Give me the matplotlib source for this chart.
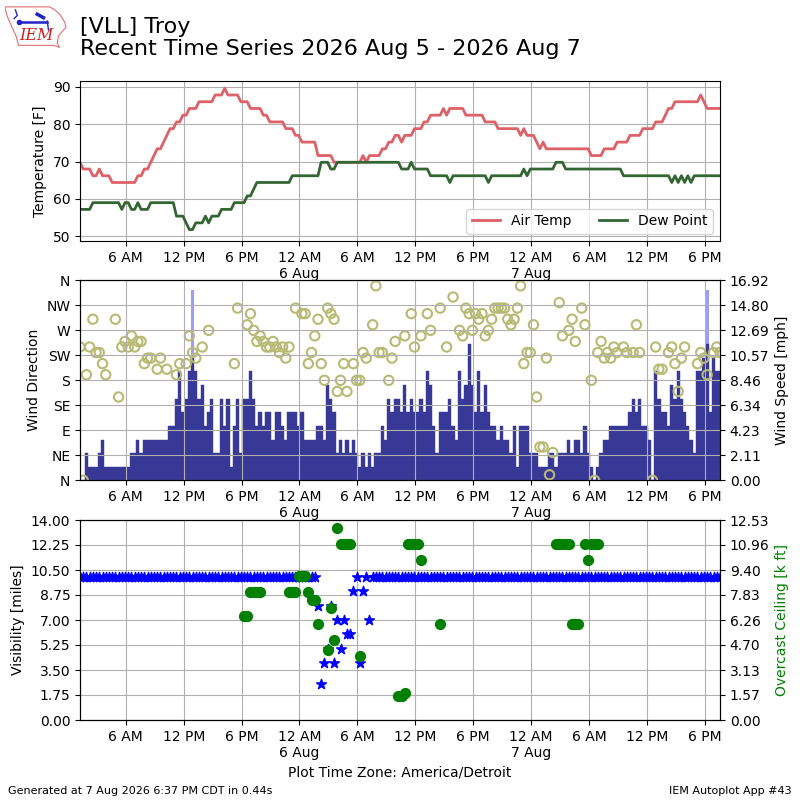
import matplotlib
matplotlib.use('Agg')
import matplotlib.pyplot as plt
import matplotlib.dates as mdates
from matplotlib.ticker import FuncFormatter, MultipleLocator
from matplotlib.patches import Polygon
import numpy as np
import pandas as pd

nan = np.nan

# observations every 20 minutes, local time (America/Detroit)
start = '2026-08-05 01:15'
n_obs = 200

# air temperature [C]
temp_c = [
    21, 20, 20, 20, 19, 19, 20, 19, 19, 19,
    18, 18, 18, 18, 18, 18, 18, 18, 19, 19,
    20, 20, 21, 22, 23, 23, 24, 25, 26, 26,
    27, 27, 28, 28, 29, 29, 29, 30, 30, 30,
    30, 30, 31, 31, 31, 32, 31, 31, 31, 31,
    30, 30, 30, 29, 29, 29, 29, 28, 28, 27,
    27, 27, 27, 27, 26, 26, 26, 25, 25, 24,
    24, 24, 24, 24, 22, 22, 22, 22, 22, 21,
    21, 21, 21, 21, 21, 21, 21, 21, 22, 21,
    22, 22, 22, 22, 23, 23, 24, 24, 25, 25,
    24, 25, 25, 25, 26, 26, 26, 27, 27, 28,
    28, 28, 28, 29, 28, 29, 29, 29, 29, 29,
    28, 28, 28, 28, 28, 28, 27, 27, 27, 27,
    26, 26, 26, 26, 26, 26, 26, 25, 26, 25,
    25, 25, 24, 23, 24, 23, 23, 23, 23, 23,
    23, 23, 23, 23, 23, 23, 23, 23, 23, 22,
    22, 22, 22, 23, 23, 23, 23, 24, 24, 24,
    24, 25, 25, 25, 25, 26, 26, 26, 26, 27,
    27, 27, 28, 29, 29, 30, 30, 30, 30, 30,
    30, 30, 30, 31, 30, 29, 29, 29, 29, 29,
]

# dew point [C]
dwpt_c = [
    14, 14, 14, 14, 15, 15, 15, 15, 15, 15,
    15, 15, 15, 14, 15, 15, 14, 14, 15, 14,
    14, 14, 15, 15, 15, 15, 15, 15, 15, 15,
    13, 13, 13, 12, 11, 11, 12, 12, 12, 13,
    12, 13, 13, 13, 14, 14, 14, 14, 15, 15,
    15, 15, 16, 16, 17, 18, 18, 18, 18, 18,
    18, 18, 18, 18, 18, 18, 19, 19, 19, 19,
    19, 19, 19, 19, 19, 21, 21, 21, 20, 20,
    21, 21, 21, 21, 21, 21, 21, 21, 21, 21,
    21, 21, 21, 21, 21, 21, 21, 21, 21, 21,
    20, 20, 20, 21, 20, 20, 20, 20, 20, 19,
    19, 19, 19, 19, 19, 18, 19, 19, 19, 19,
    19, 19, 19, 19, 19, 19, 19, 18, 19, 19,
    19, 19, 19, 19, 19, 19, 19, 19, 20, 19,
    20, 20, 20, 20, 20, 20, 20, 20, 21, 21,
    21, 20, 20, 20, 20, 20, 20, 20, 20, 20,
    20, 20, 20, 20, 20, 20, 20, 20, 20, 19,
    19, 19, 19, 19, 19, 19, 19, 19, 19, 19,
    19, 19, 19, 19, 18, 19, 18, 19, 18, 19,
    18, 19, 19, 19, 19, 19, 19, 19, 19, 19,
]

# wind speed [kt]
sknt = [
    0, 0, 2, 1, 1, 1, 2, 3, 1, 1,
    1, 1, 1, 1, 1, 1, 2, 2, 3, 2,
    3, 3, 3, 3, 3, 3, 3, 3, 4, 4,
    6, 8, 5, 6, 8, 9, 8, 6, 7, 4,
    5, 6, 2, 2, 6, 4, 6, 1, 4, 6,
    2, 6, 6, 8, 6, 4, 5, 4, 5, 5,
    3, 5, 5, 4, 3, 5, 5, 5, 4, 5,
    3, 3, 3, 3, 4, 4, 3, 7, 6, 5,
    2, 3, 2, 3, 2, 3, 2, 1, 2, 1,
    2, 1, 2, 2, 4, 3, 6, 5, 6, 6,
    5, 7, 5, 6, 5, 5, 6, 5, 8, 7,
    4, 2, 5, 5, 5, 6, 4, 3, 8, 6,
    7, 10, 7, 5, 8, 5, 7, 5, 4, 4,
    3, 4, 3, 3, 2, 4, 1, 4, 4, 4,
    2, 2, 2, 1, 1, 1, 2, 2, 1, 2,
    2, 2, 3, 2, 3, 3, 2, 4, 2, 1,
    0, 1, 2, 3, 3, 4, 4, 4, 4, 4,
    4, 5, 6, 5, 6, 4, 4, 3, 0, 8,
    6, 5, 5, 4, 7, 6, 8, 6, 5, 4,
    3, 2, 8, 8, 9, 10, 5, 9, 8, 8,
]

# wind direction [deg], nan = not reported
drct = [
    240, 0, 190, 240, 290, 230, 230, 210, 190, nan,
    nan, 290, 150, 240, 250, 240, 260, 240, 250, 250,
    210, 220, 220, nan, 200, 220, nan, 200, nan, nan,
    190, 210, nan, 210, 260, 230, 220, nan, 240, nan,
    270, nan, nan, nan, nan, nan, nan, nan, 210, 310,
    nan, nan, 280, 300, 270, 250, 260, 250, 240, 240,
    250, 240, 230, 240, 220, 240, nan, 310, nan, 300,
    300, 210, 230, 260, 290, 210, 180, 310, 300, 290,
    160, 180, 210, 160, nan, 210, 180, 180, 230, 220,
    nan, 280, 350, 230, 230, nan, 180, 220, 250, nan,
    nan, 260, nan, 300, 240, nan, 260, nan, 300, 270,
    nan, nan, 310, nan, 240, nan, 330, nan, 270, 260,
    310, 300, 270, 300, 290, 300, 260, 270, 290, 310,
    310, 310, 310, 290, 280, 290, 310, 350, 210, 230,
    230, 280, 150, 60, 60, 220, 10, 50, nan, 320,
    260, nan, 270, 290, 250, nan, 310, 280, nan, 180,
    0, 230, 250, 220, 230, 220, 240, 230, nan, 240,
    230, nan, 230, 280, 230, nan, nan, nan, 0, 240,
    200, 200, nan, 230, 240, 210, 160, 220, 240, nan,
    nan, nan, 210, 230, 220, 190, nan, 230, 240, 230,
]

# gusts [kt] at observation numbers
gust_obs = [35, 195]
gust_kt = [14, 14]

# visibility [miles]
vis = [
    10, 10, 10, 10, 10, 10, 10, 10, 10, 10, 10, 10, 10, 10, 10, 10, 10, 10, 10, 10,
    10, 10, 10, 10, 10, 10, 10, 10, 10, 10, 10, 10, 10, 10, 10, 10, 10, 10, 10, 10,
    10, 10, 10, 10, 10, 10, 10, 10, 10, 10, 10, 10, 10, 10, 10, 10, 10, 10, 10, 10,
    10, 10, 10, 10, 10, 10, 10, 10, 10, 10, 10, 10, 10, 10, 8, 2.5, 4, 5, 8, 4,
    7, 5, 7, 6, 6, 9, 10, 4, 9, 10, 7, 10, 10, 10, 10, 10, 10, 10, 10, 10,
    10, 10, 10, 10, 10, 10, 10, 10, 10, 10, 10, 10, 10, 10, 10, 10, 10, 10, 10, 10,
    10, 10, 10, 10, 10, 10, 10, 10, 10, 10, 10, 10, 10, 10, 10, 10, 10, 10, 10, 10,
    10, 10, 10, 10, 10, 10, 10, 10, 10, 10, 10, 10, 10, 10, 10, 10, 10, 10, 10, 10,
    10, 10, 10, 10, 10, 10, 10, 10, 10, 10, 10, 10, 10, 10, 10, 10, 10, 10, 10, 10,
    10, 10, 10, 10, 10, 10, 10, 10, 10, 10, 10, 10, 10, 10, 10, 10, 10, 10, 10, 10,
]

# overcast ceiling [k ft] at observation numbers
ceil_obs = [51, 52, 53, 54, 55, 56, 65, 66, 67, 68, 69, 70, 71, 72, 73, 74,
            77, 78, 79, 80, 81, 82, 83, 84, 87, 99, 100, 101, 102, 103, 104,
            105, 106, 112, 148, 149, 150, 151, 152, 153, 154, 155, 157, 158,
            159, 160, 161]
ceil_kft = [6.5, 6.5, 8.0, 8.0, 8.0, 8.0, 8.0, 8.0, 8.0, 9.0, 9.0, 9.0, 8.0,
            7.5, 7.5, 6.0, 4.4, 7.0, 5.0, 12.0, 11.0, 11.0, 11.0, 11.0, 4.0,
            1.5, 1.5, 1.7, 11.0, 11.0, 11.0, 11.0, 10.0, 6.0, 11.0, 11.0,
            11.0, 11.0, 11.0, 6.0, 6.0, 6.0, 11.0, 10.0, 11.0, 11.0, 11.0]

ceil_top = 12.53
dir_labels = ['N', 'NE', 'E', 'SE', 'S', 'SW', 'W', 'NW', 'N']

valid = pd.date_range(start, periods=n_obs, freq='20min')
t = mdates.date2num(valid.to_pydatetime())
tmpf = np.array(temp_c) * 1.8 + 32
dwpf = np.array(dwpt_c) * 1.8 + 32
smph = np.array(sknt) * 1.15078
gmph = np.array(gust_kt) * 1.15078
width = 20.0 / 1440.0


def timefmt(x, pos):
    d = mdates.num2date(x)
    h = d.hour
    if h == 0:
        return '12 AM\n%d %s' % (d.day, d.strftime('%b'))
    if h == 12:
        return '12 PM'
    if h < 12:
        return '%d AM' % h
    return '%d PM' % (h - 12)


def setup_time(ax):
    ax.set_xlim(t[0], t[-1])
    ax.xaxis.set_major_locator(mdates.HourLocator(byhour=[0, 6, 12, 18]))
    ax.xaxis.set_major_formatter(FuncFormatter(timefmt))
    ax.grid(True)


fig = plt.figure(figsize=(8, 8), dpi=100)

# temperature
ax1 = fig.add_axes([0.1, 0.699, 0.8, 0.2])
ax1.plot(t, tmpf, color='#dd6166', lw=2, label='Air Temp')
ax1.plot(t, dwpf, color='#336633', lw=2, label='Dew Point')
ax1.set_ylim(48.8, 91.6)
ax1.yaxis.set_major_locator(MultipleLocator(10))
ax1.set_ylabel('Temperature [F]')
setup_time(ax1)
ax1.legend(loc='lower right', ncol=2)

# wind
ax2 = fig.add_axes([0.1, 0.3996, 0.8, 0.25])
ax2r = ax2.twinx()
ax2r.bar(t[gust_obs], gmph, width=width, color='#9c9cff', lw=0)
ax2r.bar(t, smph, width=width, color='#383896', edgecolor='#383896', lw=0.3)
spd_top = gmph.max() * 1.05
ax2r.set_ylim(0, spd_top)
ax2r.set_yticks(np.linspace(0, spd_top, 9))
ax2r.yaxis.set_major_formatter(FuncFormatter(lambda v, p: '%.2f' % v))
ax2r.set_ylabel('Wind Speed [mph]')
ax2.scatter(t, drct, facecolors='none', edgecolors='#b8ba74', s=45, lw=1.5)
ax2.set_zorder(ax2r.get_zorder() + 1)
ax2.patch.set_visible(False)
ax2.set_ylim(0, 360)
ax2.set_yticks(np.arange(0, 361, 45))
ax2.set_yticklabels(dir_labels)
ax2.set_ylabel('Wind Direction')
setup_time(ax2)

# visibility and ceiling
ax3 = fig.add_axes([0.1, 0.1, 0.8, 0.25])
ax3r = ax3.twinx()
ax3.scatter(t, vis, marker='*', color='b', s=55, zorder=2)
ax3.set_ylim(0, 14)
ax3.set_yticks(np.arange(0, 14.01, 1.75))
ax3.yaxis.set_major_formatter(FuncFormatter(lambda v, p: '%.2f' % v))
ax3.set_ylabel('Visibility [miles]')
setup_time(ax3)
ax3r.scatter(t[ceil_obs], ceil_kft, color='g', s=50, zorder=3)
ax3r.set_ylim(0, ceil_top)
ax3r.set_yticks(np.linspace(0, ceil_top, 9))
ax3r.yaxis.set_major_formatter(FuncFormatter(lambda v, p: '%.2f' % v))
ax3r.set_ylabel('Overcast Ceiling [k ft]', color='g')
ax3.set_xlabel('Plot Time Zone: America/Detroit')

# titles and footer
fig.text(0.1, 0.979, '[VLL] Troy\nRecent Time Series 2026 Aug 5 - 2026 Aug 7',
         va='top', ha='left', fontsize=16, linespacing=1.15)
fig.text(0.01, 0.005, 'Generated at 7 Aug 2026 6:37 PM CDT in 0.44s',
         fontsize=8, va='bottom')
fig.text(0.99, 0.005, 'IEM Autoplot App #43', fontsize=8, va='bottom', ha='right')

# IEM logo (Iowa outline, station symbol, text)
logo = fig.add_axes([0.006, 0.939, 0.078, 0.054])
logo.set_xlim(0, 1)
logo.set_ylim(0, 1)
logo.axis('off')
logo.add_patch(Polygon([[0.0, 0.97], [0.72, 0.97], [0.8, 0.9], [0.88, 0.8],
                        [0.96, 0.62], [0.98, 0.5], [0.92, 0.4], [0.86, 0.3],
                        [0.84, 0.12], [0.88, 0.03], [0.78, 0.08], [0.22, 0.08],
                        [0.18, 0.3], [0.1, 0.55], [0.04, 0.75]],
                       closed=True, fill=False, ec='#e07070', lw=0.8))
logo.plot([0.22, 0.68], [0.62, 0.62], color='#2222cc', lw=1.8)
logo.plot([0.22], [0.62], 'o', color='#2222cc', ms=3)
logo.plot([0.17, 0.2, 0.15], [0.9, 0.77, 0.7], color='#2222cc', lw=1)
logo.plot([0.52, 0.62], [0.8, 0.72], color='#2222cc', lw=2.5)
logo.plot([0.68, 0.7], [0.64, 0.44], color='#2222cc', lw=1)
logo.text(0.5, 0.1, 'IEM', color='#cc2222', fontsize=11.5, style='italic',
          family='DejaVu Serif', ha='center', va='bottom')

fig.savefig('out.png', dpi=100)
